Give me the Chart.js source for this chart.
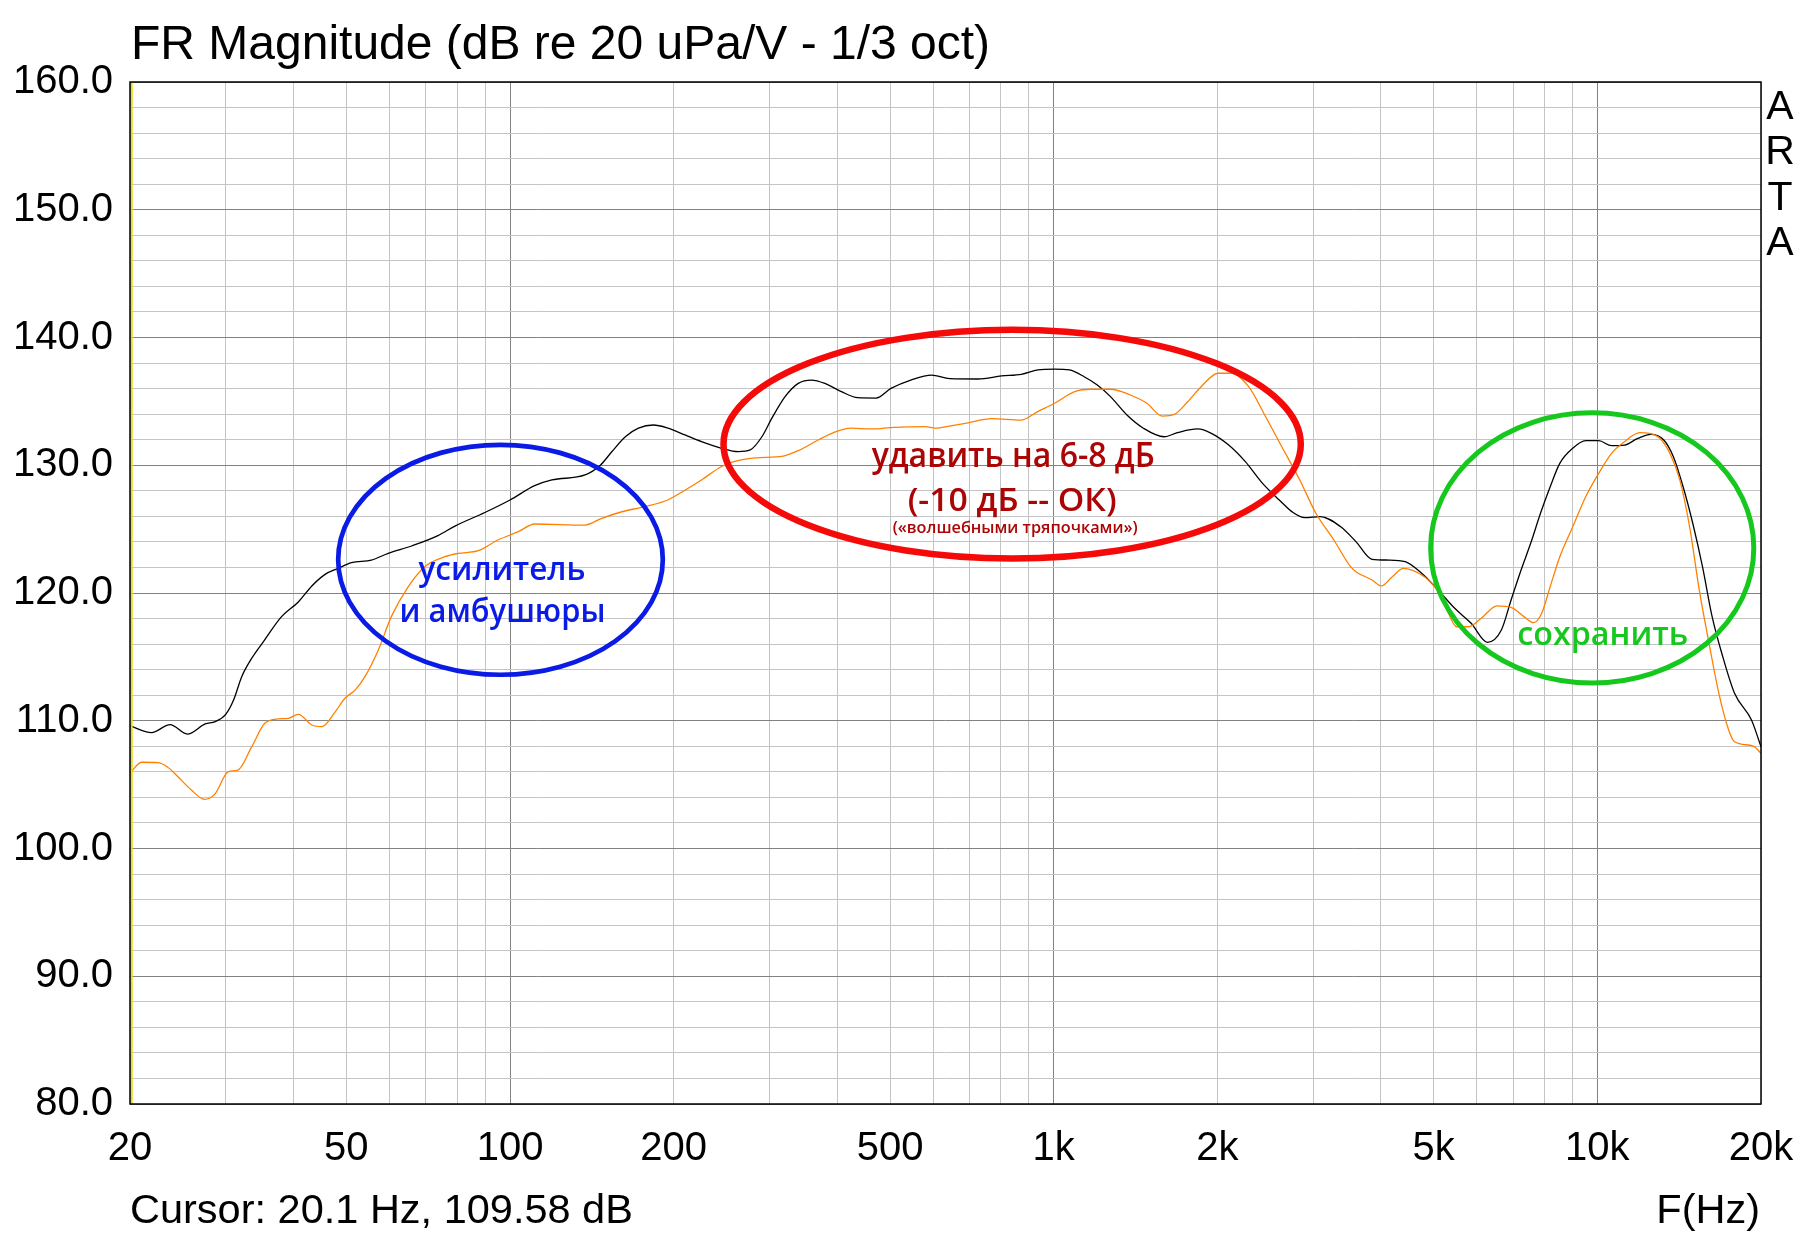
<!DOCTYPE html>
<html>
<head>
<meta charset="utf-8">
<script src="https://cdn.jsdelivr.net/npm/chart.js@4.4.1/dist/chart.umd.min.js"></script>
<style>
  body { margin: 0; background: #fff; }
  #wrap { width: 1805px; height: 1244px; }
</style>
</head>
<body>
<div id="wrap"><canvas id="frChart" width="1805" height="1244"></canvas></div>
<script>
const blackHz = [20, 21.9, 23.7, 25.5, 27.5, 28.7, 30, 31, 32.1, 33.5, 35.2, 38, 40.8, 43.2, 45.7, 48.3, 51.1, 55.6, 59.7, 65.9,
  73.7, 79.2, 89.9, 100, 111, 119.4, 137.4, 146.6, 153.9, 163, 172.3, 183.5, 195.4, 209.8, 225, 245, 262.8, 276.6, 290.6, 303,
  320.6, 339, 358.6, 379.4, 407, 436, 471, 502, 546, 596, 644, 726, 802, 872, 935, 1004, 1069, 1138, 1203, 1272,
  1364, 1462, 1596, 1689, 1840, 1950, 2096, 2252, 2420, 2600, 2756, 2898, 3090, 3368, 3597, 3850, 4132, 4432, 4752, 5094,
  5466, 5860, 6280, 6660, 6940, 7240, 7540, 7860, 8190, 8530, 9010, 9520, 10060, 10620, 11220, 11870, 12540, 13250, 13800, 14380,
  14980, 15610, 16260, 16940, 17880, 19210, 20000];
const blackDb = [109.6, 109.07, 109.7, 108.96, 109.75, 109.93, 110.5, 111.6, 113.45, 114.9, 116.2, 118.15, 119.3, 120.55, 121.46, 121.93, 122.37, 122.58, 123.1, 123.68,
  124.49, 125.24, 126.3, 127.28, 128.4, 128.85, 129.24, 130.0, 131.06, 132.23, 132.9, 133.15, 132.9, 132.37, 131.85, 131.33, 131.07, 131.2, 132.23, 133.67,
  135.37, 136.41, 136.67, 136.41, 135.76, 135.29, 135.26, 136.02, 136.67, 137.06, 136.78, 136.75, 136.99, 137.12, 137.46, 137.53, 137.46, 136.93, 136.28, 135.37,
  133.93, 132.9, 132.23, 132.55, 132.84, 132.5, 131.6, 130.28, 128.6, 127.28, 126.3, 125.9, 125.98, 125.2, 124.02, 122.64, 122.58, 122.45, 121.54, 120.23,
  118.8, 117.63, 116.14, 117.1, 119.45, 121.8, 123.89, 126.24, 128.32, 130.15, 131.33, 131.92, 131.92, 131.53, 131.58, 132.1, 132.42, 131.98, 130.67, 128.32,
  125.46, 122.06, 118.15, 115.28, 112.15, 110.06, 107.97];

const orangeHz = [20, 21, 22.5, 23.4, 24.5, 25.9, 27.4, 28.7, 30.3, 31.6, 33.5, 35.4, 37.5, 39.1, 40.8, 43.2, 45.1, 47.7, 49.7, 51.9,
  54.1, 57.2, 60.5, 65, 69.7, 75.9, 80.3, 87.4, 95, 103.6, 111, 137.4, 147.5, 160.6, 177, 195, 210, 225, 245, 259,
  282, 318, 339, 369, 395.6, 424, 461, 509, 580, 606, 644, 688, 770, 872, 935, 1004, 1093, 1170, 1272, 1384,
  1484, 1584, 1666, 1764, 1867, 2008, 2126, 2284, 2454, 2628, 2836, 3036, 3276, 3516, 3597, 3850, 4006, 4196, 4400, 4752,
  5020, 5258, 5508, 5800, 6114, 6540, 6940, 7330, 7640, 7900, 8190, 8530, 9010, 9520, 10060, 10620, 11220, 11970, 12470, 13040,
  13600, 14180, 14780, 15400, 16050, 16730, 17440, 17880, 19350, 20000];
const orangeDb = [105.9, 106.75, 106.72, 106.4, 105.62, 104.6, 103.85, 104.3, 106.0, 106.14, 107.97, 109.8, 110.14, 110.19, 110.5, 109.67, 109.54, 110.7, 111.76, 112.4,
  113.45, 115.5, 118.15, 120.5, 122.06, 122.84, 123.1, 123.31, 124.15, 124.8, 125.4, 125.32, 125.85, 126.36, 126.76, 127.28, 128.06, 128.85, 129.9, 130.3,
  130.57, 130.72, 131.14, 131.98, 132.6, 132.9, 132.84, 132.97, 133.02, 132.9, 133.07, 133.28, 133.65, 133.54, 134.2, 134.85, 135.76, 135.95, 135.95, 135.5,
  134.85, 133.85, 133.98, 134.97, 136.15, 137.2, 137.2, 136.15, 133.8, 131.45, 128.85, 126.24, 124.15, 122.06, 121.67, 121.02, 120.55, 121.28, 121.93, 121.41,
  120.5, 118.93, 117.36, 117.36, 118.02, 119.0, 118.88, 118.15, 117.68, 118.41, 120.5, 122.84, 125.19, 127.54, 129.37, 130.93, 131.84, 132.55, 132.5, 132.1,
  130.93, 128.85, 125.19, 120.23, 116.06, 112.15, 109.28, 108.36, 108.02, 107.45];

// Axis grid / labels
const xGridHz = [20, 30, 40, 50, 60, 70, 80, 90, 100, 200, 300, 400, 500, 600, 700, 800, 900,
  1000, 2000, 3000, 4000, 5000, 6000, 7000, 8000, 9000, 10000, 20000];
const xLabelHz = [20, 50, 100, 200, 500, 1000, 2000, 5000, 10000, 20000];
const xLabelText = ['20', '50', '100', '200', '500', '1k', '2k', '5k', '10k', '20k'];
const xMajorHz = [100, 1000, 10000];
const cursorHz = 20.1;

const titleText = 'FR Magnitude (dB re 20 uPa/V - 1/3 oct)';
const cursorText = 'Cursor: 20.1 Hz, 109.58 dB';

// Hand-drawn notes: box in data units (Hz, dB)
const notes = [
  { loHz: 48.3, hiHz: 191, loDb: 113.6, hiDb: 131.6, color: '#0a1be6', width: 4.7,
    lines: [
      { text: 'усилитель', size: 32, w: 167, dx: 1.5, dy: 20, color: '#0a1be6' },
      { text: 'и амбушюры', size: 32, w: 206, dx: 2, dy: 62, color: '#0a1be6' }
    ] },
  { loHz: 247, hiHz: 2848, loDb: 122.7, hiDb: 140.6, color: '#f50a0a', width: 6.5,
    lines: [
      { text: 'удавить на 6-8 дБ', size: 35, w: 283, dx: 1, dy: 23, color: '#ab0505' },
      { text: '(-10 дБ -- ОК)', size: 32, w: 209, dx: 0, dy: 67, color: '#ab0505' },
      { text: '(«волшебными тряпочками»)', size: 17, w: 245, dx: 3, dy: 89, color: '#ab0505' }
    ] },
  { loHz: 4936, hiHz: 19400, loDb: 112.95, hiDb: 134.1, color: '#16c81e', width: 5,
    lines: [
      { text: 'сохранить', size: 33, w: 171, dx: 10.5, dy: 97, color: '#16c81e' }
    ] }
];

const LIGHT = '#c4c4c4';
const DARK = '#828282';

Chart.defaults.font.family = '"Liberation Sans", Arial, sans-serif';
Chart.defaults.color = '#000';

// Draw frame, cursor, notes and the ARTA texts
const overlay = {
  id: 'overlay',
  afterDraw(chart) {
    const ctx = chart.ctx;
    const a = chart.chartArea;
    const xs = chart.scales.x, ys = chart.scales.y;
    ctx.save();

    // cursor line
    const cx = xs.getPixelForValue(cursorHz);
    ctx.strokeStyle = '#e8e000';
    ctx.lineWidth = 2;
    ctx.beginPath();
    ctx.moveTo(cx + 0.5, a.top);
    ctx.lineTo(cx + 0.5, a.bottom);
    ctx.stroke();

    // frame
    ctx.strokeStyle = '#000';
    ctx.lineWidth = 1.5;
    ctx.strokeRect(a.left, a.top, a.right - a.left, a.bottom - a.top);

    // notes
    notes.forEach(n => {
      const x1 = xs.getPixelForValue(n.loHz), x2 = xs.getPixelForValue(n.hiHz);
      const y1 = ys.getPixelForValue(n.hiDb), y2 = ys.getPixelForValue(n.loDb);
      const mx = (x1 + x2) / 2, my = (y1 + y2) / 2;
      ctx.strokeStyle = n.color;
      ctx.lineWidth = n.width;
      ctx.beginPath();
      ctx.ellipse(mx, my, (x2 - x1) / 2, (y2 - y1) / 2, 0, 0, Math.PI * 2);
      ctx.stroke();
      n.lines.forEach(l => {
        ctx.font = '600 ' + l.size + 'px "Open Sans", "Noto Sans", sans-serif';
        ctx.fillStyle = l.color;
        ctx.textAlign = 'center';
        ctx.textBaseline = 'alphabetic';
        const m = ctx.measureText(l.text).width;
        ctx.save();
        ctx.translate(mx + l.dx, my + l.dy);
        ctx.scale(l.w / m, 1);
        ctx.fillText(l.text, 0, 0);
        ctx.restore();
      });
    });

    // texts around the plot
    ctx.fillStyle = '#000';
    ctx.textBaseline = 'alphabetic';
    ctx.font = '48px "Liberation Sans", Arial, sans-serif';
    ctx.textAlign = 'left';
    ctx.fillText(titleText, 131, 59);

    ctx.font = '41.5px "Liberation Sans", Arial, sans-serif';
    ctx.fillText(cursorText, 130, 1223);
    ctx.textAlign = 'right';
    ctx.fillText('F(Hz)', 1760, 1223);

    ctx.font = '41px "Liberation Sans", Arial, sans-serif';
    ctx.textAlign = 'center';
    ['A', 'R', 'T', 'A'].forEach((ch, i) => ctx.fillText(ch, 1780, 119 + i * 45.3));

    ctx.restore();
  }
};

const chart = new Chart(document.getElementById('frChart').getContext('2d'), {
  type: 'line',
  data: {
    datasets: [
      {
        label: 'orange',
        data: orangeHz.map((f, i) => ({ x: f, y: orangeDb[i] })),
        borderColor: 'rgb(255, 128, 0)',
        borderWidth: 1.3,
        cubicInterpolationMode: 'monotone',
        pointRadius: 0,
        fill: false
      },
      {
        label: 'black',
        data: blackHz.map((f, i) => ({ x: f, y: blackDb[i] })),
        borderColor: '#000',
        borderWidth: 1.3,
        cubicInterpolationMode: 'monotone',
        pointRadius: 0,
        fill: false
      }
    ]
  },
  options: {
    responsive: false,
    animation: false,
    layout: { padding: { top: 82, right: 44, bottom: 0, left: 0 } },
    plugins: {
      legend: { display: false },
      tooltip: { enabled: false },
      title: { display: false }
    },
    scales: {
      x: {
        type: 'logarithmic',
        min: 20,
        max: 20000,
        border: { display: false },
        grid: {
          drawTicks: false,
          lineWidth: 1,
          color: c => (c.tick && xMajorHz.includes(c.tick.value)) ? DARK : LIGHT
        },
        ticks: {
          autoSkip: false,
          maxRotation: 0,
          padding: 21,
          font: { size: 40 },
          callback: v => {
            const i = xLabelHz.indexOf(v);
            return i >= 0 ? xLabelText[i] : '';
          }
        },
        afterBuildTicks: s => { s.ticks = xGridHz.map(v => ({ value: v })); },
        afterFit: s => {
          s.height = 140;
          s.paddingLeft = 0;
          s.paddingRight = 0;
        }
      },
      y: {
        min: 80,
        max: 160,
        border: { display: false },
        grid: {
          drawTicks: false,
          lineWidth: 1,
          color: c => (c.tick && c.tick.value % 10 === 0) ? DARK : LIGHT
        },
        ticks: {
          stepSize: 2,
          autoSkip: false,
          padding: 17,
          font: { size: 40 },
          callback: v => (v % 10 === 0 ? v.toFixed(1) : '')
        },
        afterFit: s => {
          s.width = 130;
          s.paddingTop = 0;
          s.paddingBottom = 0;
        }
      }
    }
  },
  plugins: [overlay]
});
</script>
</body>
</html>
